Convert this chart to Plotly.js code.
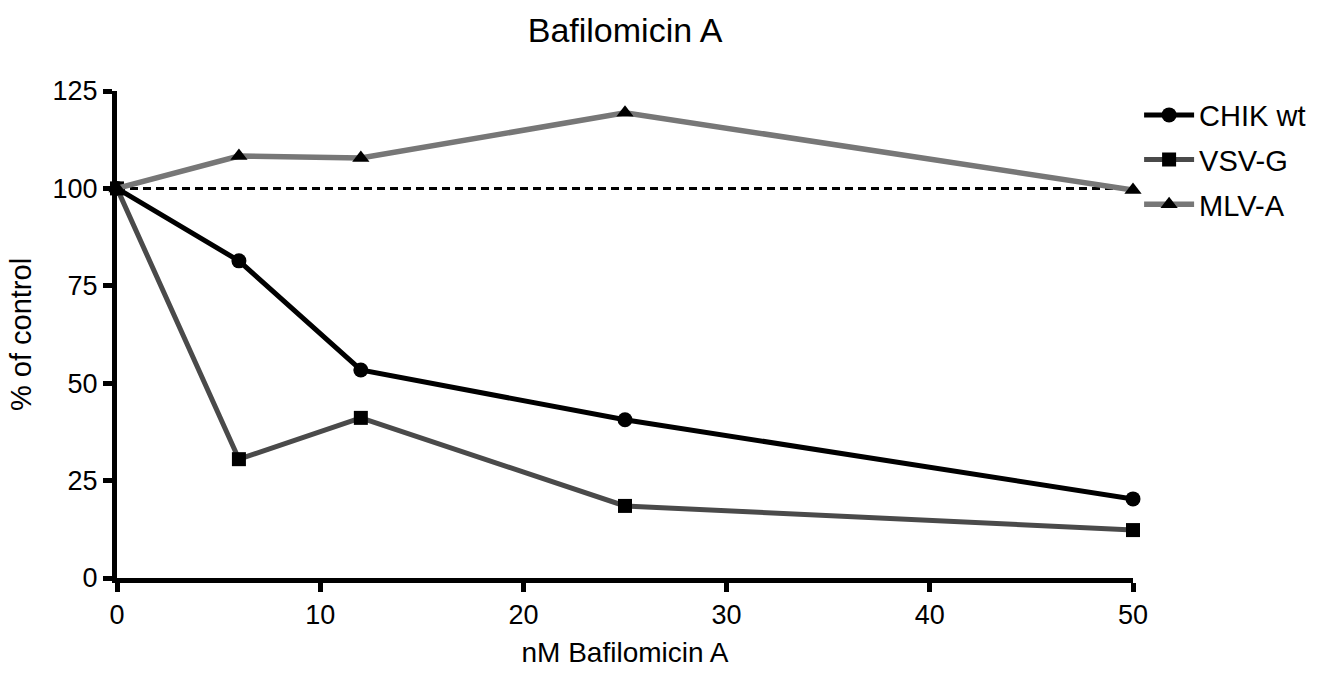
<!DOCTYPE html>
<html>
<head>
<meta charset="utf-8">
<script src="https://cdn.plot.ly/plotly-3.0.1.min.js"></script>
<style>html,body{margin:0;padding:0;background:#fff;}#chart{width:1331px;height:675px;}</style>
</head>
<body>
<div id="chart"></div>
<script>
const concentrations = [0, 6, 12, 25, 50];
const chikWt = [100, 81.4, 53.4, 40.6, 20.3];
const vsvG = [100, 30.5, 41.1, 18.5, 12.3];
const mlvA = [100, 108.3, 107.8, 119.4, 99.6];
const xTicks = [0, 10, 20, 30, 40, 50];
const yTicks = [0, 25, 50, 75, 100, 125];
const controlLevel = 100;

const font = "Liberation Sans, Arial, Helvetica, sans-serif";

const traces = [
  {x: concentrations, y: chikWt, name: "CHIK wt", mode: "lines+markers", legendgroup: "a",
   line: {color: "#000000", width: 5}, marker: {symbol: "circle", size: 15, color: "#000000"}, cliponaxis: false},
  {x: concentrations, y: vsvG, name: "VSV-G", mode: "lines+markers", legendgroup: "b",
   line: {color: "#4a4a4a", width: 5}, marker: {symbol: "square", size: 14, color: "#000000"}, cliponaxis: false},
  {x: concentrations, y: mlvA, name: "MLV-A", mode: "lines+markers", legendgroup: "c",
   line: {color: "#777777", width: 5.5}, marker: {symbol: "triangle-up", size: 15, color: "#000000"}, cliponaxis: false}
];

const layout = {
  width: 1331, height: 675,
  margin: {l: 117, r: 198, t: 91, b: 97},
  paper_bgcolor: "#ffffff", plot_bgcolor: "#ffffff",
  font: {family: font, color: "#000000", size: 27},
  title: {text: "Bafilomicin A", font: {size: 34, family: font}, x: 0.4696, xanchor: "center", y: 0.955, yanchor: "middle"},
  showlegend: true,
  legend: {x: 1.006, xanchor: "left", y: 1.003, yanchor: "top", font: {size: 29, family: font},
           itemwidth: 50, tracegroupgap: 4, bgcolor: "rgba(0,0,0,0)"},
  xaxis: {range: [0, 50], tickvals: xTicks, ticktext: xTicks.map(String),
          showgrid: false, zeroline: false, showline: true, linecolor: "#000", linewidth: 5,
          ticks: "outside", ticklen: 9, tickwidth: 5, tickcolor: "#000",
          tickfont: {size: 27, family: font},
          title: {text: "nM Bafilomicin A", font: {size: 28, family: font}, standoff: 14}},
  yaxis: {range: [0, 125], tickvals: yTicks, ticktext: yTicks.map(String),
          showgrid: false, zeroline: false, showline: true, linecolor: "#000", linewidth: 5,
          ticks: "outside", ticklen: 9, tickwidth: 5, tickcolor: "#000",
          tickfont: {size: 27, family: font},
          title: {text: "% of control", font: {size: 29, family: font}, standoff: 14}},
  shapes: [{type: "line", xref: "x", yref: "y", x0: concentrations[0], x1: concentrations[concentrations.length-1],
            y0: controlLevel, y1: controlLevel, line: {color: "#000", width: 3, dash: "8px,5px"}, layer: "below"}]
};

Plotly.newPlot("chart", traces, layout, {displayModeBar: false, staticPlot: true});
</script>
</body>
</html>
